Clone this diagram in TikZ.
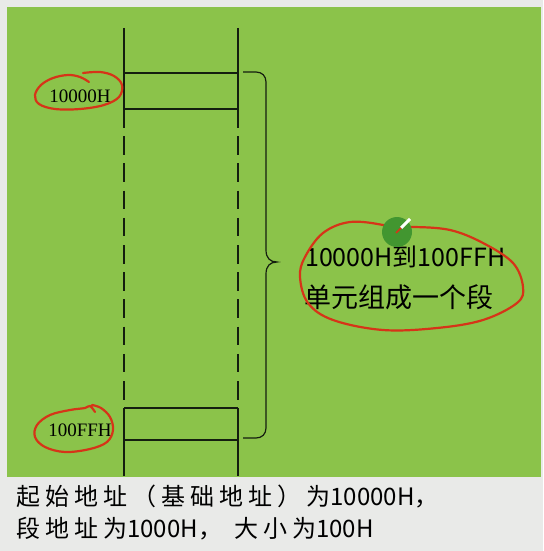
\documentclass[tikz,border=0pt]{standalone}
\usepackage{fontspec}
\setmainfont{Liberation Serif}
\newfontfamily\cjk{Noto Sans CJK SC}
\newfontfamily\cjkwide{Noto Sans CJK SC}[LetterSpace=21]
\definecolor{boardgreen}{RGB}{139,195,74}
\definecolor{pagegray}{RGB}{233,234,232}
\definecolor{penred}{RGB}{214,52,24}
\definecolor{dotgreen}{RGB}{66,150,48}
\definecolor{inkblack}{RGB}{20,30,15}

\begin{document}
\begin{tikzpicture}[x=1pt,y=-1pt,
        wall/.style={inkblack,line width=1.2pt},
        gapline/.style={wall,dash pattern=on 18.5pt off 8.7pt},
        ring/.style={penred,line width=2.2pt,line cap=round,line join=round},
        addr/.style={font=\fontsize{19}{19}\selectfont,inner sep=0pt}]
    \useasboundingbox (0,0) rectangle (543,551);
    \fill[pagegray] (0,0) rectangle (543,551);
    \fill[boardgreen] (7,7) rectangle (541,477);

    \draw[wall] (124,28) -- (124,109);
    \draw[wall] (238,28) -- (238,109);
    \draw[gapline] (124,109) -- (124,408);
    \draw[gapline] (238,109) -- (238,408);
    \draw[wall] (124,408) -- (124,476);
    \draw[wall] (238,408) -- (238,476);
    \draw[wall] (124,73) -- (238,73);
    \draw[wall] (124,109) -- (238,109);
    \draw[wall] (124,408) -- (238,408);
    \draw[wall] (124,440) -- (238,440);

    \draw[wall] (243,72) -- (256,72) .. controls (262,72) and (266,76) .. (266,82)
        -- (266,250) .. controls (266,258) and (270,262) .. (277,262)
        .. controls (270,262) and (266,266) .. (266,274)
        -- (266,428) .. controls (266,434) and (262,438) .. (256,438) -- (243,438);

    \node[addr] (lowaddr) at (80,96) {10000H};
    \node[addr] (highaddr) at (80,430) {100FFH};

    \node[anchor=west,inner sep=0pt,font=\cjk\fontsize{25}{25}\selectfont] (segnote1) at (305,257) {10000H到100FFH};
    \node[anchor=west,inner sep=0pt,font=\cjk\fontsize{27}{27}\selectfont] (segnote2) at (304,297) {单元组成一个段};

    \node[anchor=west,inner sep=0pt,font=\fontsize{24}{24}\selectfont] (baseline1) at (16,497)
        {{\cjkwide 起始地址（基础地址）为}{\cjk 10000H，}};
    \node[anchor=west,inner sep=0pt,font=\fontsize{24}{24}\selectfont] (baseline2) at (16,529)
        {{\cjkwide 段地址为}{\cjk 1000H，}\hspace{12pt}{\cjkwide 大小为}{\cjk 100H}};

    \draw[ring] plot[smooth,tension=0.6] coordinates {(89,82) (80,77) (68,75) (53,78) (41,85)
        (35,95) (39,104) (55,109) (80,109) (104,105) (119,97) (122,85) (114,76) (100,72) (83,73)};
    \draw[ring] plot[smooth,tension=0.6] coordinates {(95,412) (90,406) (85,408) (70,410)
        (50,415) (37,425) (35,437) (45,447) (65,452) (90,449) (107,442) (113,430) (110,417) (101,408) (92,405)};
    \draw[ring] plot[smooth,tension=0.6] coordinates {(397,231) (383,225) (350,222) (323,233)
        (305,257) (300,277) (308,303) (333,320) (383,330) (437,328) (483,320) (517,303)
        (523,287) (513,263) (483,243) (450,230) (413,227) (404,229)};

    \fill[dotgreen] (397,232) circle (15pt);
    \draw[white,line width=3pt] (401,228) -- (410,219);
    \draw[penred,line width=1.5pt] (396,233) -- (401,228);
\end{tikzpicture}
\end{document}
